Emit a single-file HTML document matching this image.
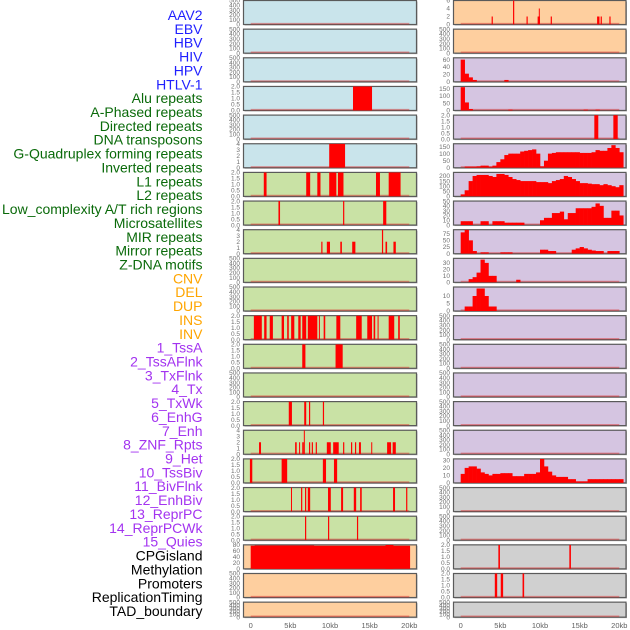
<!DOCTYPE html>
<html><head><meta charset="utf-8">
<style>
html,body{margin:0;padding:0;background:#fff;width:630px;height:630px;overflow:hidden}
svg{display:block}
</style></head>
<body>
<svg id="chart" width="630" height="630" viewBox="0 0 630 630" xmlns="http://www.w3.org/2000/svg"></svg>
<script>
// ---- labels ----
const trackLabels = ["AAV2","EBV","HBV","HIV","HPV","HTLV-1","Alu repeats","A-Phased repeats","Directed repeats","DNA transposons","G-Quadruplex forming repeats","Inverted repeats","L1 repeats","L2 repeats","Low_complexity A/T rich regions","Microsatellites","MIR repeats","Mirror repeats","Z-DNA motifs","CNV","DEL","DUP","INS","INV","1_TssA","2_TssAFlnk","3_TxFlnk","4_Tx","5_TxWk","6_EnhG","7_Enh","8_ZNF_Rpts","9_Het","10_TssBiv","11_BivFlnk","12_EnhBiv","13_ReprPC","14_ReprPCWk","15_Quies","CPGisland","Methylation","Promoters","ReplicationTiming","TAD_boundary"];
const labelGroups = ["v","v","v","v","v","v","r","r","r","r","r","r","r","r","r","r","r","r","r","s","s","s","s","s","c","c","c","c","c","c","c","c","c","c","c","c","c","c","c","o","o","o","o","o"];

// ---- x axis ----
const xTickValues = [0,5,10,15,20];
const xTickLabels = ["0","5kb","10kb","15kb","20kb"];

// ---- y axes ----
const T500 = [0,100,200,300,400,500];
const T2 = [0,0.5,1,1.5,2];
const T4 = [0,1,2,3,4];
const leftYMax = [500,500,500,2,500,4,2,2,4,500,500,2,2,500,2,4,2,2,2,80,500,500];
const leftTicks = [T500,T500,T500,T2,T500,T4,T2,T2,T4,T500,T500,T2,T2,T500,T2,T4,T2,T2,T2,[0,20,40,60,80],T500,T500];
const rightYMax = [6,500,65,165,2,170,235,50,90,37,16,500,500,500,500,500,32,500,500,2,2,500];
const rightTicks = [[0,2,4,6],T500,[0,20,40,60],[0,50,100,150],T2,[0,50,100,150],[0,50,100,150,200],[0,10,20,30,40,50],[0,25,50,75],[0,10,20,30],[0,5,10],T500,T500,T500,T500,T500,[0,10,20,30],T500,T500,T2,T2,T500];
const leftBg = ["b","b","b","b","b","b","g","g","g","g","g","g","g","g","g","g","g","g","g","p","p","p"];
const rightBg = ["p","p","u","u","u","u","u","u","u","u","u","u","u","u","u","u","u","x","x","x","x","x"];

// ---- left panel segments [startKb, endKb, value] ----
const leftSegs = [
 [],[],[],
 [[12.9,15.3,2]],
 [],
 [[9.9,11.9,4]],
 [[1.65,2.0,2],[7.0,7.5,2],[8.4,8.8,2],[9.9,10.8,2],[11.0,11.7,2],[15.8,16.3,2],[17.4,18.9,2]],
 [[3.5,3.7,2],[11.65,11.8,2],[16.7,17.1,2]],
 [[8.9,9.05,2],[9.6,10.0,2],[11.3,11.5,2],[12.8,13.2,2],[16.55,16.7,4],[17.0,17.2,2],[18.0,18.3,2]],
 [],[],
 [[0.4,1.4,2],[1.7,2.0,2],[2.4,2.8,2],[3.9,4.2,2],[4.6,4.8,2],[5.1,5.5,2],[6.0,6.3,2],[6.5,7.0,2],[7.2,8.4,2],[8.6,8.7,2],[9.2,9.4,2],[10.8,11.3,2],[13.3,14.0,2],[14.7,15.3,2],[15.5,15.7,2],[16.0,16.1,2],[17.4,18.1,2],[18.6,18.8,2]],
 [[6.5,6.9,2],[10.7,11.6,2]],
 [],
 [[4.8,5.2,2],[6.75,7.0,2],[7.35,7.5,2],[9.1,9.25,2]],
 [[1.05,1.3,2],[5.6,5.8,2],[6.1,6.2,2],[6.5,6.7,2],[6.7,6.8,4],[7.35,7.5,2],[7.7,7.85,2],[8.2,8.35,2],[9.6,10.1,2],[10.4,11.1,2],[11.65,11.8,2],[12.65,12.8,2],[13.15,13.3,2],[13.65,13.9,2],[15.2,15.3,2],[17.2,17.7,2],[17.9,18.3,2]],
 [[-0.1,0.2,2],[3.9,4.6,2],[9.1,9.5,2],[10.5,10.9,2]],
 [[5.08,5.2,2],[6.35,6.5,2],[6.85,7.0,2],[7.2,7.5,2],[9.75,10.1,2],[11.4,11.65,2],[13.0,13.3,2],[13.8,14.0,2],[17.95,18.2,2],[19.6,19.75,2]],
 [[6.85,7.0,2],[9.75,9.9,2],[13.4,13.55,2]],
 [[0,20.1,77],[0.5,8,78],[17,18,80]],
 [],[]
];

// ---- right panel segments (sparse tracks) ----
const rightSegs = [
 [[3.9,4.05,2],[6.6,6.75,6],[8.3,8.45,2],[9.7,10.0,2],[9.85,9.95,4],[11.35,11.5,2],[17.2,17.5,2],[17.65,17.8,2],[18.75,18.9,2]],
 [],[],[],
 [[16.85,17.35,2],[19.25,19.8,2]],
 [],[],[],[],[],[],[],[],[],[],[],[],[],[],
 [[4.75,4.95,2],[13.7,13.9,2]],
 [[4.3,4.6,2],[5.05,5.35,2],[7.8,8.0,2]],
 []
];

// ---- right panel histograms (0.5 kb bins, 0..20.5 kb) ----
const hist2 = [60,22,12,5,0,0,0,0,0,0,0,5,0,0,0,0,0,0,0,0,0,0,0,0,0,0,0,0,0,0,0,0,0,0,0,0,0,0,0,0,0];
const hist3 = [160,55,10,0,0,0,0,0,0,0,0,0,5,0,0,0,0,0,0,0,0,0,0,0,0,0,0,0,0,0,0,5,0,0,5,0,0,0,0,0,0];
const hist5 = [0,8,8,8,10,15,15,8,15,40,60,90,100,100,100,115,120,125,130,100,10,50,100,105,110,110,110,110,110,110,105,105,105,110,125,120,120,140,160,140,110];
const hist6 = [20,60,150,200,210,210,210,200,190,220,220,210,190,170,160,150,150,150,150,140,140,140,130,150,160,170,200,190,170,150,130,130,125,120,120,110,120,110,100,90,110];
const hist7 = [8,8,8,0,0,8,8,0,8,8,8,5,5,5,5,5,0,0,0,0,10,15,15,25,25,28,12,25,25,35,35,35,35,38,45,40,15,15,30,30,20];
const hist8 = [80,90,50,10,0,5,5,0,0,0,5,5,5,0,0,0,0,0,0,0,15,15,10,10,0,0,0,0,15,20,25,20,15,12,10,10,0,10,10,10,0];
const hist9 = [0,0,5,8,15,35,30,10,10,0,0,0,0,0,4,0,0,0,0,0,0,0,0,0,0,0,0,0,0,0,0,0,0,0,0,0,0,0,0,0,0];
const hist10 = [0,3,3,10,15,15,10,3,3,0,0,0,0,0,0,0,0,0,0,0,0,0,0,0,0,0,0,0,0,0,0,0,0,0,0,0,0,0,0,0,0];
const hist16 = [12,20,22,22,19,14,12,10,12,12,13,13,13,9,9,9,12,12,12,14,32,22,15,10,8,8,8,5,5,2,2,2,5,5,5,5,5,5,5,5,5];
const rightHists = {2:hist2,3:hist3,5:hist5,6:hist6,7:hist7,8:hist8,9:hist9,10:hist10,16:hist16};

// ---- drawing ----
const NS = "http://www.w3.org/2000/svg";
const svg = document.getElementById("chart");
const bgColors = {b:"#c9e4eb",g:"#c9e2a5",p:"#fecf9f",u:"#d5c5e1",x:"#d0d0d0"};
const labelColors = {v:"#1f1fff",r:"#0a6a0a",s:"#ffa500",c:"#a333f0",o:"#000000"};
const COLS = [{x0:243.5,x1:416.5,zero:250.7},{x0:453.5,x1:626,zero:460.7}];
const KBPX = 7.93;
function xScale(col, kb){ return COLS[col].zero + kb*KBPX; }
function rowTop(i){ return 0.5 + i*28.65; }
function rowH(i){ return i===21 ? 15 : 24; }
function yScale(i, v, ymax){ return rowTop(i) + rowH(i) - (v/ymax)*rowH(i); }
function mk(tag, attrs, parent){
  const e = document.createElementNS(NS, tag);
  for (const k in attrs) e.setAttribute(k, attrs[k]);
  (parent||svg).appendChild(e);
  return e;
}
function fmt(v, ticks){
  const dec = ticks.some(t => t % 1 !== 0);
  return dec ? v.toFixed(1) : String(v);
}

// labels
trackLabels.forEach((t,i)=>{
  const e = mk("text",{x:202.5,y:15+i*13.86+5,"text-anchor":"end","font-size":"14","font-family":"Liberation Sans, sans-serif",fill:labelColors[labelGroups[i]]});
  e.textContent = t;
  
  
});

function drawPanel(col, i, ymax, ticks, bg, segs, hist){
  const g = mk("g",{});
  
  
  const x0 = COLS[col].x0, x1 = COLS[col].x1, top = rowTop(i), h = rowH(i);
  mk("rect",{x:x0+1,y:top+1,width:x1-x0,height:h,fill:"#aaa"},g);
  mk("rect",{x:x0,y:top,width:x1-x0,height:h,fill:bgColors[bg],stroke:"#5a5a5a","stroke-width":"1.2"},g);
  const clipId = "c"+col+"_"+i;
  const cp = mk("clipPath",{id:clipId},g);
  mk("rect",{x:x0,y:top,width:x1-x0,height:h},cp);
  const dg = mk("g",{"clip-path":"url(#"+clipId+")"},g);
  // baseline
  const bl = mk("line",{x1:xScale(col,0),x2:xScale(col,20),y1:top+h-0.8,y2:top+h-0.8,stroke:"rgba(220,40,40,0.45)","stroke-width":"1.6"},dg);
  
  
  if (hist){
    hist.forEach((v,k)=>{
      if (v<=0) return;
      const xa = xScale(col,k*0.5), xb = xScale(col,(k+1)*0.5);
      const yv = yScale(i, Math.min(v,ymax*1.05), ymax);
      const r = mk("rect",{x:xa,y:yv,width:xb-xa+0.3,height:top+h-yv,fill:"#ff0000"},dg);
      
      
    });
  }
  segs.forEach(s=>{
    const xa = xScale(col,s[0]), xb = xScale(col,s[1]);
    const yv = yScale(i, Math.min(s[2],ymax), ymax);
    const r = mk("rect",{x:xa,y:yv,width:Math.max(xb-xa,1),height:top+h-yv,fill:"#ff0000"},dg);
    
    
  });
  // y ticks
  ticks.forEach(t=>{
    const y = yScale(i,t,ymax);
    const tx = mk("text",{x:x0-3.5,y:y+2.2,"text-anchor":"end","font-size":"6.5","font-family":"Liberation Sans, sans-serif",fill:"#707070"},g);
    tx.textContent = fmt(t,ticks);
    
    
  });
}

for (let i=0;i<22;i++){
  drawPanel(0,i,leftYMax[i],leftTicks[i],leftBg[i],leftSegs[i],null);
  drawPanel(1,i,rightYMax[i],rightTicks[i],rightBg[i],rightSegs[i],rightHists[i]||null);
}

// x axis labels
[0,1].forEach(col=>{
  xTickValues.forEach((v,k)=>{
    const t = mk("text",{x:xScale(col,v),y:628,"text-anchor":"middle","font-size":"7.5","font-family":"Liberation Sans, sans-serif",fill:"#606060"});
    t.textContent = xTickLabels[k];
    
    
  });
});
</script>
</body></html>
